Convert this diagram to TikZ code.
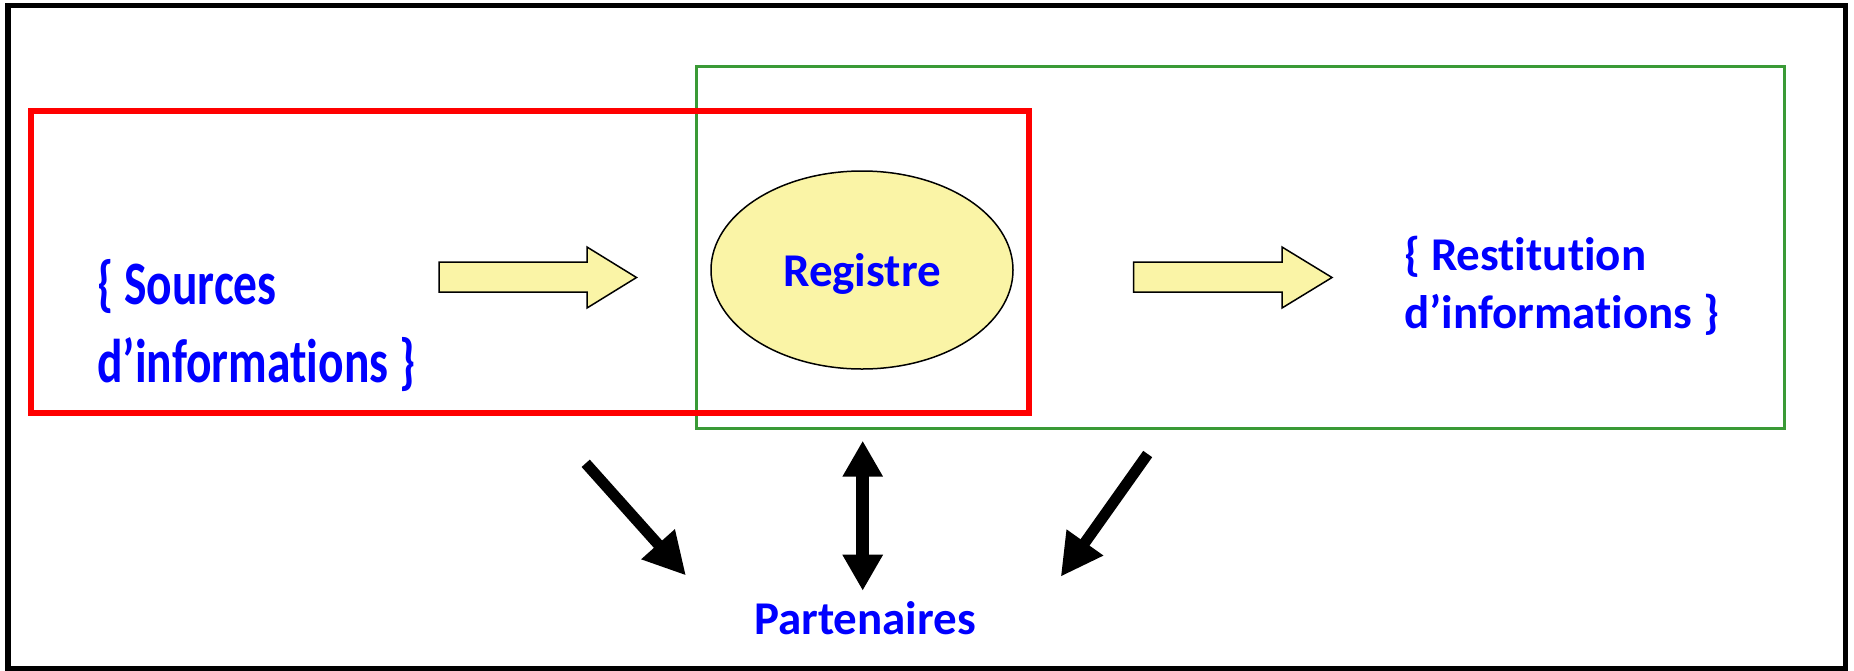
\documentclass[tikz,border=0pt]{standalone}
\usepackage{fontspec}
\setmainfont{Carlito}[Ligatures={NoCommon,NoContextual}]
\usetikzlibrary{shapes.geometric,arrows.meta}
\definecolor{labelblue}{HTML}{0000FF}
\definecolor{pale}{HTML}{FAF4A6}
\definecolor{framegreen}{HTML}{3A9A36}
\tikzset{
  frame/.style={draw=black, line width=5.5pt},
  srcbox/.style={draw=red, line width=6pt},
  outbox/.style={draw=framegreen, line width=3pt},
  label/.style={text=labelblue, font=\bfseries\fontsize{46}{56}\selectfont, inner sep=0pt},
  blockarrow/.style={draw=black, fill=pale, line width=1.5pt, line join=miter},
  oneway/.style={line width=11pt, -{Triangle[length=42pt,width=42pt]}},
  twoway/.style={line width=13pt, {Triangle[length=36pt,width=38pt]}-{Triangle[length=36pt,width=38pt]}}
}
\begin{document}
\begin{tikzpicture}[x=1pt,y=-1pt]
  \useasboundingbox (0,0) rectangle (1854,670);
  % outer frame
  \draw[frame] (8,5.5) rectangle (1845.5,668.5);
  % groups
  \draw[outbox] (696,66) rectangle (1784,428.5);
  \draw[srcbox] (31,111) rectangle (1029,413);

  % central register
  \node[ellipse, draw=black, line width=1.5pt, fill=pale,
        minimum width=302pt, minimum height=198pt,
        text height=40pt, text depth=8pt,
        text=labelblue, font=\bfseries\fontsize{47}{56}\selectfont] (reg) at (862,270) {Registre};

  % sources and outputs
  \node[label, anchor=base west] (src) at (97,304)
    {\scalebox{1}[1.3]{\fontsize{47.5}{60}\selectfont\begin{tabular}[t]{@{}l@{}}\{ Sources\\d’informations \}\end{tabular}}};
  \node[label, anchor=base west] (out) at (1404,270)
    {\fontsize{47}{58}\selectfont\begin{tabular}[t]{@{}l@{}}\{ Restitution\\d’informations \}\end{tabular}};

  % partners
  \node[label, anchor=base] (part) at (865,634) {\fontsize{47}{56}\selectfont Partenaires};

  % flow arrows
  \draw[blockarrow] (439,262) -- (587,262) -- (587,247) -- (636.5,277.5)
        -- (587,308) -- (587,292) -- (439,292) -- cycle;
  \draw[blockarrow] (1133.5,262) -- (1282,262) -- (1282,247) -- (1332,277.5)
        -- (1282,308) -- (1282,292) -- (1133.5,292) -- cycle;

  % links with the partners
  \coordinate (l0) at (585.7,463.3);
  \coordinate (l1) at (686,575.5);
  \coordinate (m0) at (862.7,440.7);
  \coordinate (m1) at (862.7,590.7);
  \coordinate (r0) at (1147.7,454);
  \coordinate (r1) at (1060.7,576.7);
  \draw[oneway] (l0) -- (l1);
  \draw[twoway] (m0) -- (m1);
  \draw[oneway] (r0) -- (r1);
\end{tikzpicture}
\end{document}
